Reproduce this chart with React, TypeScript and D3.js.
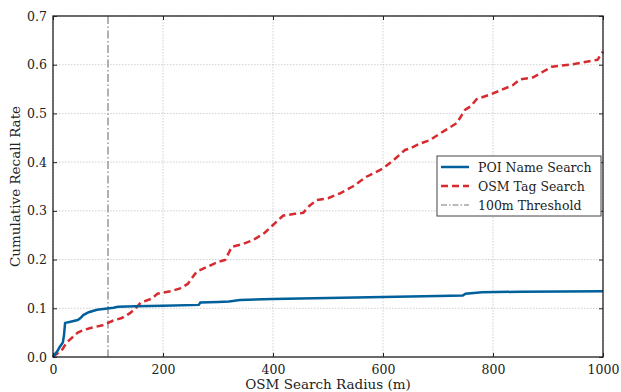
import * as d3 from "d3";
import { useEffect, useRef } from "react";

// radius (m) / cumulative recall
const poiRadius = [0, 3, 8, 12, 15, 18, 20, 22, 30, 45, 50, 55, 65, 80, 95, 110, 118, 150, 200, 265, 268, 300, 320, 340, 400, 500, 600, 700, 745, 750, 780, 850, 1000];
const poiRecall = [0, 0.005, 0.012, 0.02, 0.025, 0.03, 0.045, 0.07, 0.072, 0.076, 0.08, 0.086, 0.092, 0.097, 0.099, 0.101, 0.103, 0.104, 0.105, 0.107, 0.112, 0.113, 0.114, 0.117, 0.119, 0.121, 0.123, 0.125, 0.126, 0.13, 0.133, 0.134, 0.135];

const osmRadius = [0, 5, 15, 25, 35, 45, 55, 70, 90, 100, 110, 125, 140, 150, 160, 180, 190, 215, 231, 245, 261, 280, 300, 313, 325, 345, 364, 385, 400, 418, 440, 455, 466, 479, 500, 522, 545, 570, 600, 619, 640, 649, 667, 685, 704, 720, 734, 749, 760, 770, 800, 836, 849, 873, 890, 907, 940, 970, 990, 1000];
const osmRecall = [0, 0.005, 0.012, 0.03, 0.04, 0.05, 0.055, 0.06, 0.065, 0.07, 0.075, 0.08, 0.09, 0.1, 0.112, 0.12, 0.13, 0.135, 0.141, 0.15, 0.175, 0.185, 0.195, 0.199, 0.226, 0.232, 0.24, 0.255, 0.271, 0.29, 0.294, 0.296, 0.31, 0.322, 0.326, 0.336, 0.35, 0.37, 0.387, 0.404, 0.425, 0.428, 0.438, 0.445, 0.459, 0.47, 0.48, 0.507, 0.515, 0.529, 0.541, 0.558, 0.57, 0.574, 0.585, 0.596, 0.6, 0.606, 0.61, 0.627];

const xTicks = [0, 200, 400, 600, 800, 1000];
const yTicks = [0, 0.1, 0.2, 0.3, 0.4, 0.5, 0.6, 0.7];
const threshold = 100;

const legendItems = [
    { label: "POI Name Search", color: "#00609c", dash: "none", width: 2.5 },
    { label: "OSM Tag Search", color: "#d62a2f", dash: "7,4", width: 2.5 },
    { label: "100m Threshold", color: "#777", dash: "6,2,1.5,2", width: 1.2 },
];

const App = () => {
    const ref = useRef<SVGSVGElement>(null);

    useEffect(() => {
        const svg = d3.select(ref.current);
        svg.selectAll("*").remove();

        const left = 53, right = 603, top = 16, bottom = 357;
        const x = d3.scaleLinear().domain([0, 1000]).range([left, right]);
        const y = d3.scaleLinear().domain([0, 0.7]).range([bottom, top]);
        const font = "DejaVu Serif";

        // grid
        const grid = svg.append("g");
        grid.selectAll("line.gx").data(xTicks).enter().append("line")
            .attr("x1", d => x(d)).attr("x2", d => x(d))
            .attr("y1", top).attr("y2", bottom)
            .attr("stroke", "#bbb").attr("stroke-width", 0.7).attr("stroke-dasharray", "1.5,1.5");
        grid.selectAll("line.gy").data(yTicks).enter().append("line")
            .attr("x1", left).attr("x2", right)
            .attr("y1", d => y(d)).attr("y2", d => y(d))
            .attr("stroke", "#bbb").attr("stroke-width", 0.7).attr("stroke-dasharray", "1.5,1.5");

        // threshold
        svg.append("line")
            .attr("x1", x(threshold)).attr("x2", x(threshold))
            .attr("y1", top).attr("y2", bottom)
            .attr("stroke", "#888").attr("stroke-width", 1.3)
            .attr("stroke-dasharray", "8,2.5,1.5,2.5");

        const poi = poiRadius.map((r, i) => [r, poiRecall[i]] as [number, number]);
        const osm = osmRadius.map((r, i) => [r, osmRecall[i]] as [number, number]);
        const line = d3.line<[number, number]>().x(d => x(d[0])).y(d => y(d[1]));

        svg.append("path").attr("d", line(osm)!)
            .attr("fill", "none").attr("stroke", "#d62a2f").attr("stroke-width", 2.5)
            .attr("stroke-dasharray", "7,4");
        svg.append("path").attr("d", line(poi)!)
            .attr("fill", "none").attr("stroke", "#00609c").attr("stroke-width", 2.5);

        // frame
        svg.append("rect")
            .attr("x", left).attr("y", top)
            .attr("width", right - left).attr("height", bottom - top)
            .attr("fill", "none").attr("stroke", "#222").attr("stroke-width", 1.3);

        // axes, ticks inward on all sides
        const xb = svg.append("g").attr("transform", `translate(0,${bottom})`)
            .call(d3.axisBottom(x).tickValues(xTicks).tickSizeInner(-4).tickSizeOuter(0).tickPadding(8).tickFormat(d3.format("d")));
        const xt = svg.append("g").attr("transform", `translate(0,${top})`)
            .call(d3.axisTop(x).tickValues(xTicks).tickSizeInner(-4).tickSizeOuter(0).tickFormat(() => ""));
        const yl = svg.append("g").attr("transform", `translate(${left},0)`)
            .call(d3.axisLeft(y).tickValues(yTicks).tickSizeInner(-4).tickSizeOuter(0).tickPadding(6).tickFormat(d3.format(".1f")));
        const yr = svg.append("g").attr("transform", `translate(${right},0)`)
            .call(d3.axisRight(y).tickValues(yTicks).tickSizeInner(-4).tickSizeOuter(0).tickFormat(() => ""));
        [xb, xt, yl, yr].forEach(g => {
            g.select(".domain").remove();
            g.selectAll("line").attr("stroke", "#222").attr("stroke-width", 1);
            g.selectAll("text").attr("font-family", font).attr("font-size", 12.5).attr("fill", "#222");
        });

        svg.append("text")
            .attr("x", (left + right) / 2).attr("y", 389)
            .attr("text-anchor", "middle").attr("font-family", font).attr("font-size", 13.5).attr("fill", "#222")
            .text("OSM Search Radius (m)");
        svg.append("text")
            .attr("transform", `translate(20,${(top + bottom) / 2}) rotate(-90)`)
            .attr("text-anchor", "middle").attr("font-family", font).attr("font-size", 13.5).attr("fill", "#222")
            .text("Cumulative Recall Rate");

        // legend
        const lg = svg.append("g").attr("transform", "translate(437,156)");
        lg.append("rect").attr("width", 164).attr("height", 60)
            .attr("fill", "white").attr("stroke", "#444").attr("stroke-width", 1);
        legendItems.forEach((it, i) => {
            const yy = 11 + i * 19;
            lg.append("line").attr("x1", 4).attr("x2", 32).attr("y1", yy).attr("y2", yy)
                .attr("stroke", it.color).attr("stroke-width", it.width).attr("stroke-dasharray", it.dash);
            lg.append("text").attr("x", 41).attr("y", yy + 4.5)
                .attr("font-family", font).attr("font-size", 12.5).attr("fill", "#222")
                .text(it.label);
        });
    });

    return <svg ref={ref} width="621" height="392" style={{ position: "absolute", left: 0, top: 0, background: "white" }} />;
};

export default App;
